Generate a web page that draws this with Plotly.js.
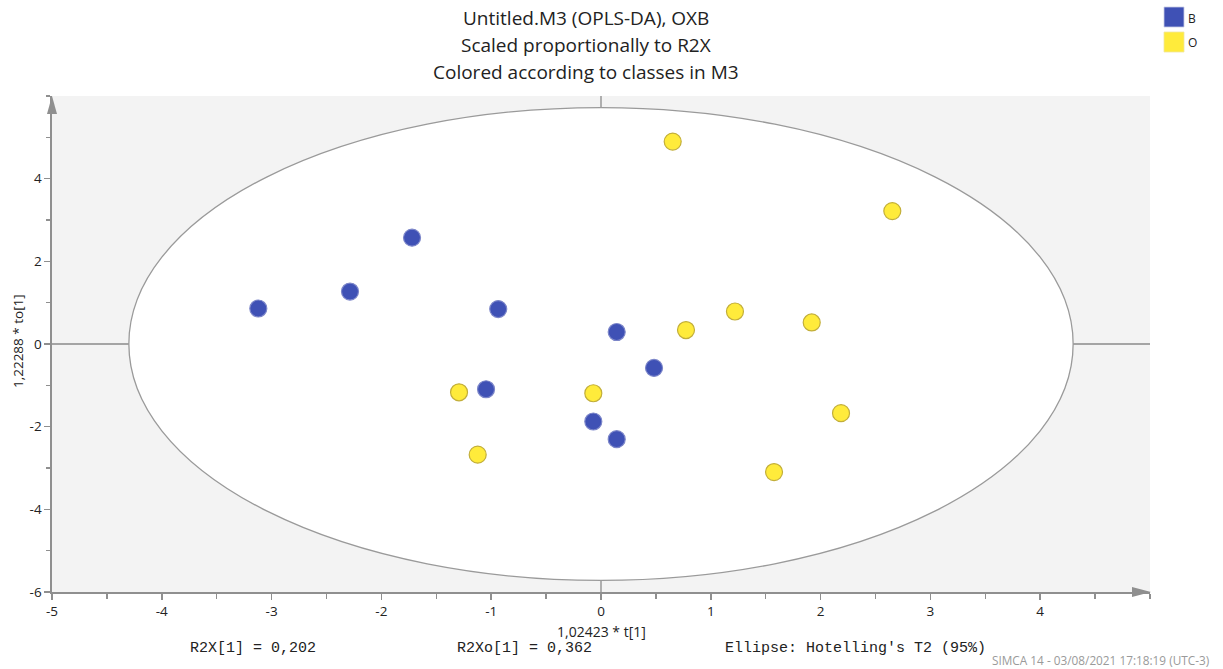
<!DOCTYPE html>
<html>
<head>
<meta charset="utf-8">
<script src="https://cdn.plot.ly/plotly-3.0.1.min.js"></script>
<style>html,body{margin:0;padding:0;background:#fff;}#chart{width:1223px;height:669px;}</style>
</head>
<body>
<div id="chart"></div>
<script>
// ---- Data ----
const classNames = ["B", "O"];
const classColors = ["#3F51B5", "#FFEB3B"];
const classBorders = ["#7C86C9", "#C2AE3A"];

const tB  = [-3.121, -2.286, -1.721, -0.936, 0.143, 0.483, -1.047, -0.070, 0.143];
const toB = [ 0.859,  1.269,  2.572,  0.844, 0.290, -0.579, -1.095, -1.875, -2.302];

const tO  = [0.653, 2.653, 0.774, 1.220, 1.919, -1.293, -0.070, 2.186, -1.123, 1.576];
const toO = [4.897, 3.216, 0.338, 0.786, 0.521, -1.168, -1.192, -1.674, -2.678, -3.098];

// Hotelling's T2 (95%) ellipse semi-axes
const ellipseT = 4.3;
const ellipseTo = 5.72;

const xTickVals = [-5, -4, -3, -2, -1, 0, 1, 2, 3, 4];
const xTickText = ["-5", "-4", "-3", "-2", "-1", "0", "1", "2", "3", "4"];
const yTickVals = [-6, -4, -2, 0, 2, 4];
const yTickText = ["-6", "-4", "-2", "0", "2", "4"];

const titleLines = ["Untitled.M3 (OPLS-DA), OXB", "Scaled proportionally to R2X", "Colored according to classes in M3"];
const xTitle = "1,02423 * t[1]";
const yTitle = "1,22288 * to[1]";
const bottomNotes = ["R2X[1] = 0,202", "R2Xo[1] = 0,362", "Ellipse: Hotelling's T2 (95%)"];
const footer = "SIMCA 14 - 03/08/2021 17:18:19 (UTC-3)";

// ---- Layout geometry ----
const FW = 1223, FH = 669;
const M = {l: 52, r: 73, t: 96, b: 77};
const PW = FW - M.l - M.r, PH = FH - M.t - M.b;
const px = x => (x - M.l) / PW;          // pixel -> paper x
const py = y => (FH - M.b - y) / PH;     // pixel -> paper y

const axisCol = "#8f8f8f";
const textCol = "#222222";
const font = "Open Sans, Noto Sans, sans-serif";

function scatter(i, xs, ys) {
  return {
    type: "scatter", mode: "markers", name: classNames[i],
    x: xs, y: ys, showlegend: false, hoverinfo: "x+y",
    marker: {size: 17, color: classColors[i], line: {color: classBorders[i], width: 1.2}}
  };
}

const traces = [scatter(0, tB, toB), scatter(1, tO, toO)];

const shapes = [
  // ellipse
  {type: "circle", xref: "x", yref: "y", x0: -ellipseT, x1: ellipseT, y0: -ellipseTo, y1: ellipseTo,
   fillcolor: "#ffffff", line: {color: "#9a9a9a", width: 1.3}, layer: "below"},
  // cross lines
  {type: "line", xref: "x", yref: "paper", x0: 0, x1: 0, y0: 0, y1: 1, line: {color: "#8a8a8a", width: 1.3}, layer: "below"},
  {type: "line", xref: "paper", yref: "y", x0: 0, x1: 1, y0: 0, y1: 0, line: {color: "#8a8a8a", width: 1.3}, layer: "below"},
  // axis arrows
  {type: "path", xref: "paper", yref: "paper",
   path: `M ${px(52)} ${py(96)} L ${px(47)} ${py(114)} L ${px(57)} ${py(114)} Z`,
   fillcolor: axisCol, line: {width: 0}},
  {type: "path", xref: "paper", yref: "paper",
   path: `M ${px(1151)} ${py(592)} L ${px(1132)} ${py(587)} L ${px(1132)} ${py(597)} Z`,
   fillcolor: axisCol, line: {width: 0}},
  // legend swatches
  {type: "rect", xref: "paper", yref: "paper", x0: px(1164), x1: px(1184), y0: py(27), y1: py(7),
   fillcolor: classColors[0], line: {color: "#c8cbe6", width: 0.8}},
  {type: "rect", xref: "paper", yref: "paper", x0: px(1164), x1: px(1184), y0: py(52), y1: py(32),
   fillcolor: classColors[1], line: {color: "#f0e6a0", width: 0.8}}
];

const annotations = [];
const titleY = [18, 45, 72];
titleLines.forEach((t, i) => annotations.push({
  text: t, xref: "paper", yref: "paper", x: px(586), y: py(titleY[i]),
  xanchor: "center", yanchor: "middle", showarrow: false,
  font: {family: font, size: 19, color: textCol}
}));
// legend labels
[19, 43].forEach((yy, i) => annotations.push({
  text: classNames[i], xref: "paper", yref: "paper", x: px(1186), y: py(yy),
  xanchor: "left", yanchor: "middle", showarrow: false,
  font: {family: font, size: 12, color: textCol}
}));
// bottom notes
const noteX = [188, 455, 723];
bottomNotes.forEach((t, i) => annotations.push({
  text: t, xref: "paper", yref: "paper", x: px(noteX[i]), y: py(648),
  xanchor: "left", yanchor: "middle", showarrow: false,
  font: {family: "Liberation Mono, DejaVu Sans Mono, monospace", size: 15, color: textCol}
}));
annotations.push({
  text: footer, xref: "paper", yref: "paper", x: px(1211), y: py(660),
  xanchor: "right", yanchor: "middle", showarrow: false,
  font: {family: font, size: 11.8, color: "#9a9a9a"}
});
// axis titles
annotations.push({
  text: xTitle, xref: "paper", yref: "paper", x: px(601), y: py(631),
  xanchor: "center", yanchor: "middle", showarrow: false,
  font: {family: font, size: 14, color: textCol}
});
annotations.push({
  text: yTitle, xref: "paper", yref: "paper", x: px(18), y: py(341),
  xanchor: "center", yanchor: "middle", showarrow: false, textangle: -90,
  font: {family: font, size: 13.5, color: textCol}
});

const layout = {
  width: FW, height: FH,
  margin: M,
  paper_bgcolor: "#ffffff",
  plot_bgcolor: "#f3f3f3",
  showlegend: false,
  xaxis: {
    range: [-5, 5], tickmode: "array", tickvals: xTickVals, ticktext: xTickText,
    showgrid: false, zeroline: false,
    showline: true, linecolor: axisCol, linewidth: 1.6,
    ticks: "outside", ticklen: 6, tickwidth: 1.5, tickcolor: axisCol,
    minor: {dtick: 0.5, tick0: -5, ticks: "outside", ticklen: 5, tickwidth: 1.5, tickcolor: axisCol, showgrid: false},
    tickfont: {family: font, size: 13.5, color: textCol},
    fixedrange: true
  },
  yaxis: {
    range: [-6, 6], tickmode: "array", tickvals: yTickVals, ticktext: yTickText,
    showgrid: false, zeroline: false,
    showline: true, linecolor: axisCol, linewidth: 1.6,
    ticks: "outside", ticklen: 6, tickwidth: 1.5, tickcolor: axisCol,
    minor: {dtick: 1, tick0: -6, ticks: "outside", ticklen: 4, tickwidth: 1.5, tickcolor: axisCol, showgrid: false},
    tickfont: {family: font, size: 13.5, color: textCol},
    fixedrange: true
  },
  shapes: shapes,
  annotations: annotations
};

Plotly.newPlot("chart", traces, layout, {displayModeBar: false, staticPlot: true});
</script>
</body>
</html>
